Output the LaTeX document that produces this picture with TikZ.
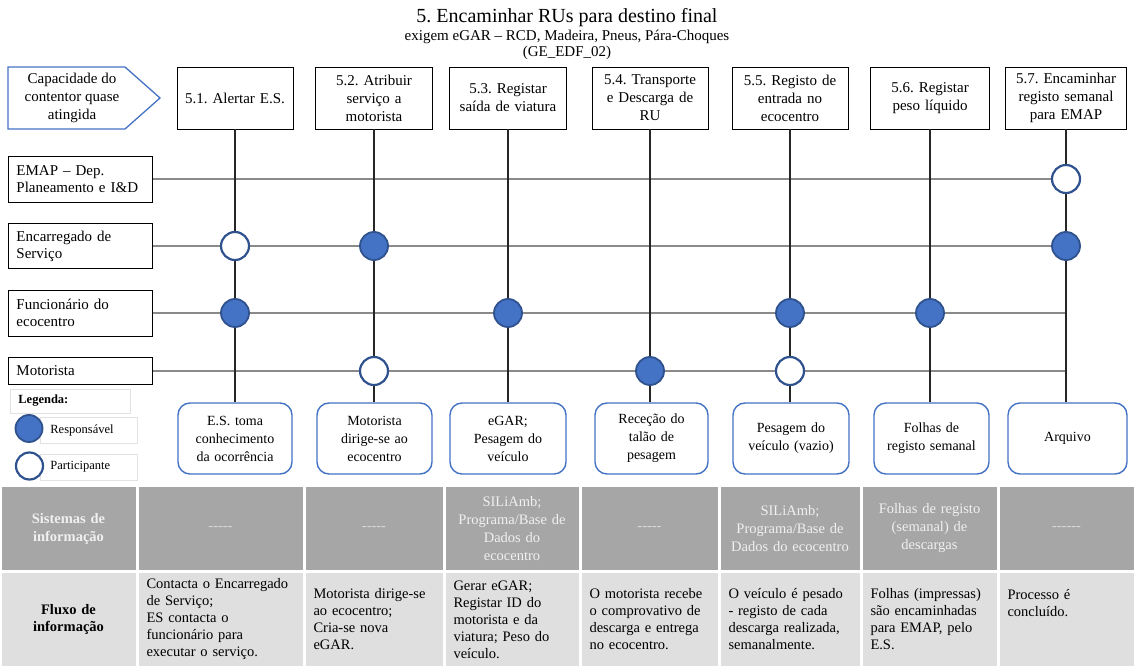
\documentclass[tikz,border=0pt]{standalone}
\usepackage{fontspec}
\setmainfont{Liberation Serif}
\usetikzlibrary{calc}
\frenchspacing
\definecolor{accent}{HTML}{4472C4}
\definecolor{accentdark}{HTML}{2F528F}
\definecolor{hdrgray}{HTML}{A6A6A6}
\definecolor{rowgray}{HTML}{DFDFDF}
\definecolor{lanegray}{HTML}{8A8A8A}
\definecolor{legline}{HTML}{E2E2E2}
% a run of plain hyphens, kept apart so they are not joined into dashes
\newcommand\hyphenrun[1]{\foreach\k in {1,...,#1}{-\kern0pt}}
\begin{document}
\begin{tikzpicture}[x=1pt,y=-1pt,
  stepbox/.style={draw=black, line width=0.9pt, fill=white, align=center,
    minimum height=62pt, inner xsep=2pt, font=\fontsize{15}{18}\selectfont},
  lanebox/.style={draw=black, line width=0.9pt, fill=white, align=left,
    text width=128pt, inner xsep=8pt, font=\fontsize{15}{17}\selectfont},
  outbox/.style={draw=accent, line width=1.4pt, rounded corners=12pt, fill=white,
    align=center, minimum height=71pt, inner xsep=2pt, font=\fontsize{14}{18}\selectfont},
  resp/.style={circle, draw=accentdark, fill=accent, line width=1.8pt,
    minimum size=28pt, inner sep=0pt},
  part/.style={circle, draw=accentdark, fill=white, line width=2.2pt,
    minimum size=28pt, inner sep=0pt},
  vline/.style={draw=black!85, line width=1.1pt},
  hline/.style={draw=lanegray, line width=1.1pt},
  hdrcell/.style={fill=hdrgray, text=white!94!black, align=center, inner xsep=4pt,
    inner ysep=0pt, minimum height=83pt, font=\fontsize{14.5}{18}\selectfont},
  flowcell/.style={fill=rowgray, align=left, inner xsep=8pt, inner ysep=0pt,
    minimum height=93pt, font=\fontsize{14.5}{17}\selectfont},
  legbox/.style={draw=legline, line width=0.8pt, anchor=west, minimum height=26pt,
    text width=77pt, inner xsep=10pt, font=\fontsize{12.5}{14}\selectfont},
]
\useasboundingbox (0,0) rectangle (1135,666);

% title block
\node[font=\fontsize{20}{22}\selectfont] (title) at (567,18) {5. Encaminhar RUs para destino final};
\node[font=\fontsize{15}{16}\selectfont, align=center] (subtitle) at (567,45)
  {exigem eGAR – RCD, Madeira, Pneus, Pára-Choques\\(GE\_EDF\_02)};

% trigger
\draw[accent, line width=1.3pt] (8,67) -- (125,67) -- (160,98) -- (125,129) -- (8,129) -- cycle;
\node[align=center, font=\fontsize{15}{18}\selectfont] (cap) at (72,98)
  {Capacidade do\\contentor quase\\atingida};

% process steps
\node[stepbox, text width=112pt] (t1) at (235,98) {5.1. Alertar E.S.};
\node[stepbox, text width=113pt] (t2) at (374,98) {5.2. Atribuir\\serviço a\\motorista};
\node[stepbox, text width=113pt] (t3) at (508,98) {5.3. Registar\\saída de viatura};
\node[stepbox, text width=112pt] (t4) at (650,98) {5.4. Transporte\\e Descarga de\\RU};
\node[stepbox, text width=112pt] (t5) at (790,98) {5.5. Registo de\\entrada no\\ecocentro};
\node[stepbox, text width=115pt] (t6) at (930,98) {5.6. Registar\\peso líquido};
\node[stepbox, text width=117pt] (t7) at (1066,98) {5.7. Encaminhar\\registo semanal\\para EMAP};

% swimlanes
\node[lanebox, minimum height=46pt, anchor=west] (lEMAP) at (8,179) {EMAP – Dep.\\Planeamento e I\&D};
\node[lanebox, minimum height=45pt, anchor=west] (lEnc) at (8,246) {Encarregado de\\Serviço};
\node[lanebox, minimum height=46pt, anchor=west] (lFun) at (8,313) {Funcionário do\\ecocentro};
\node[lanebox, minimum height=27pt, anchor=west] (lMot) at (8,371) {Motorista};

% outputs
\node[outbox, text width=110pt] (b1) at (235,438.5) {E.S. toma\\conhecimento\\da ocorrência};
\node[outbox, text width=111pt] (b2) at (374.5,438.5) {Motorista\\dirige-se ao\\ecocentro};
\node[outbox, text width=112pt] (b3) at (508,438.5) {eGAR;\\Pesagem do\\veículo};
\node[outbox, text width=109pt] (b4) at (651.5,438.5) {Receção do\\talão de\\pesagem};
\node[outbox, text width=112pt] (b5) at (791,438.5) {Pesagem do\\veículo (vazio)};
\node[outbox, text width=111pt] (b6) at (931.5,438.5) {Folhas de\\registo semanal};
\node[outbox, text width=115pt] (b7) at (1067.5,438.5) {Arquivo};

% lane lines
\foreach \l in {lEMAP,lEnc,lFun,lMot}
  \draw[hline] (\l.east) -- (\l.east -| t7.south);

% step lines
\foreach \i in {1,...,7}
  \draw[vline] (t\i.south) -- (t\i.south |- b\i.north);

% responsibilities
\node[part] (c11) at (t1 |- lEnc) {};
\node[resp] (c12) at (t1 |- lFun) {};
\node[resp] (c21) at (t2 |- lEnc) {};
\node[part] (c22) at (t2 |- lMot) {};
\node[resp] (c31) at (t3 |- lFun) {};
\node[resp] (c41) at (t4 |- lMot) {};
\node[resp] (c51) at (t5 |- lFun) {};
\node[part] (c52) at (t5 |- lMot) {};
\node[resp] (c61) at (t6 |- lFun) {};
\node[part] (c71) at (t7 |- lEMAP) {};
\node[resp] (c72) at (t7 |- lEnc) {};

% legend
\node[draw=legline, line width=0.8pt, anchor=west, minimum height=24pt, text width=104pt,
  inner xsep=8pt, font=\bfseries\fontsize{12.5}{14}\selectfont] (leg) at (10,401) {Legenda:};
\node[legbox] (lr) at (40,430) {Responsável};
\node[legbox] (lp) at (40,467) {Participante};
\node[resp, minimum size=27pt] (kr) at (29,428.5) {};
\node[part, minimum size=27pt] (kp) at (29.5,466) {};

% information table: systems row
\node[hdrcell, text width=126pt] (s0) at (68.5,528.5) {\textbf{Sistemas de}\\\textbf{informação}};
\node[hdrcell, text width=156pt, text=white!85!black] (s1) at (220.5,528.5) {\hyphenrun{5}};
\node[hdrcell, text width=129pt, text=white!85!black] (s2) at (374,528.5) {\hyphenrun{5}};
\node[hdrcell, text width=125pt] (s3) at (512,528.5) {SILiAmb;\\Programa/Base de\\Dados do\\ecocentro};
\node[hdrcell, text width=128pt, text=white!85!black] (s4) at (649.5,528.5) {\hyphenrun{5}};
\node[hdrcell, text width=131pt] (s5) at (790,528.5) {SILiAmb;\\Programa/Base de\\Dados do ecocentro};
\node[hdrcell, text width=126pt] (s6) at (929.5,528.5) {Folhas de registo\\(semanal) de\\descargas};
\node[hdrcell, text width=126pt, text=white!85!black] (s7) at (1066.5,528.5) {\hyphenrun{6}};

% information table: flow row
\node[flowcell, text width=118pt, align=center] (f0) at (68.5,619.5) {\textbf{Fluxo de}\\\textbf{informação}};
\node[flowcell, text width=148pt] (f1) at (220.5,619.5) {Contacta o Encarregado\\de Serviço;\\ES contacta o\\funcionário para\\executar o serviço.};
\node[flowcell, text width=121pt] (f2) at (374,619.5) {Motorista dirige-se\\ao ecocentro;\\Cria-se nova\\eGAR.};
\node[flowcell, text width=117pt] (f3) at (512,619.5) {Gerar eGAR;\\Registar ID do\\motorista e da\\viatura; Peso do\\veículo.};
\node[flowcell, text width=120pt] (f4) at (649.5,619.5) {O motorista recebe\\o comprovativo de\\descarga e entrega\\no ecocentro.};
\node[flowcell, text width=123pt] (f5) at (790,619.5) {O veículo é pesado\\- registo de cada\\descarga realizada,\\semanalmente.};
\node[flowcell, text width=118pt] (f6) at (929.5,619.5) {Folhas (impressas)\\são encaminhadas\\para EMAP, pelo\\E.S.};
\node[flowcell, text width=118pt] (f7) at (1066.5,619.5) {Processo é\\concluído.\\\mbox{}\\\mbox{}};
\end{tikzpicture}
\end{document}
